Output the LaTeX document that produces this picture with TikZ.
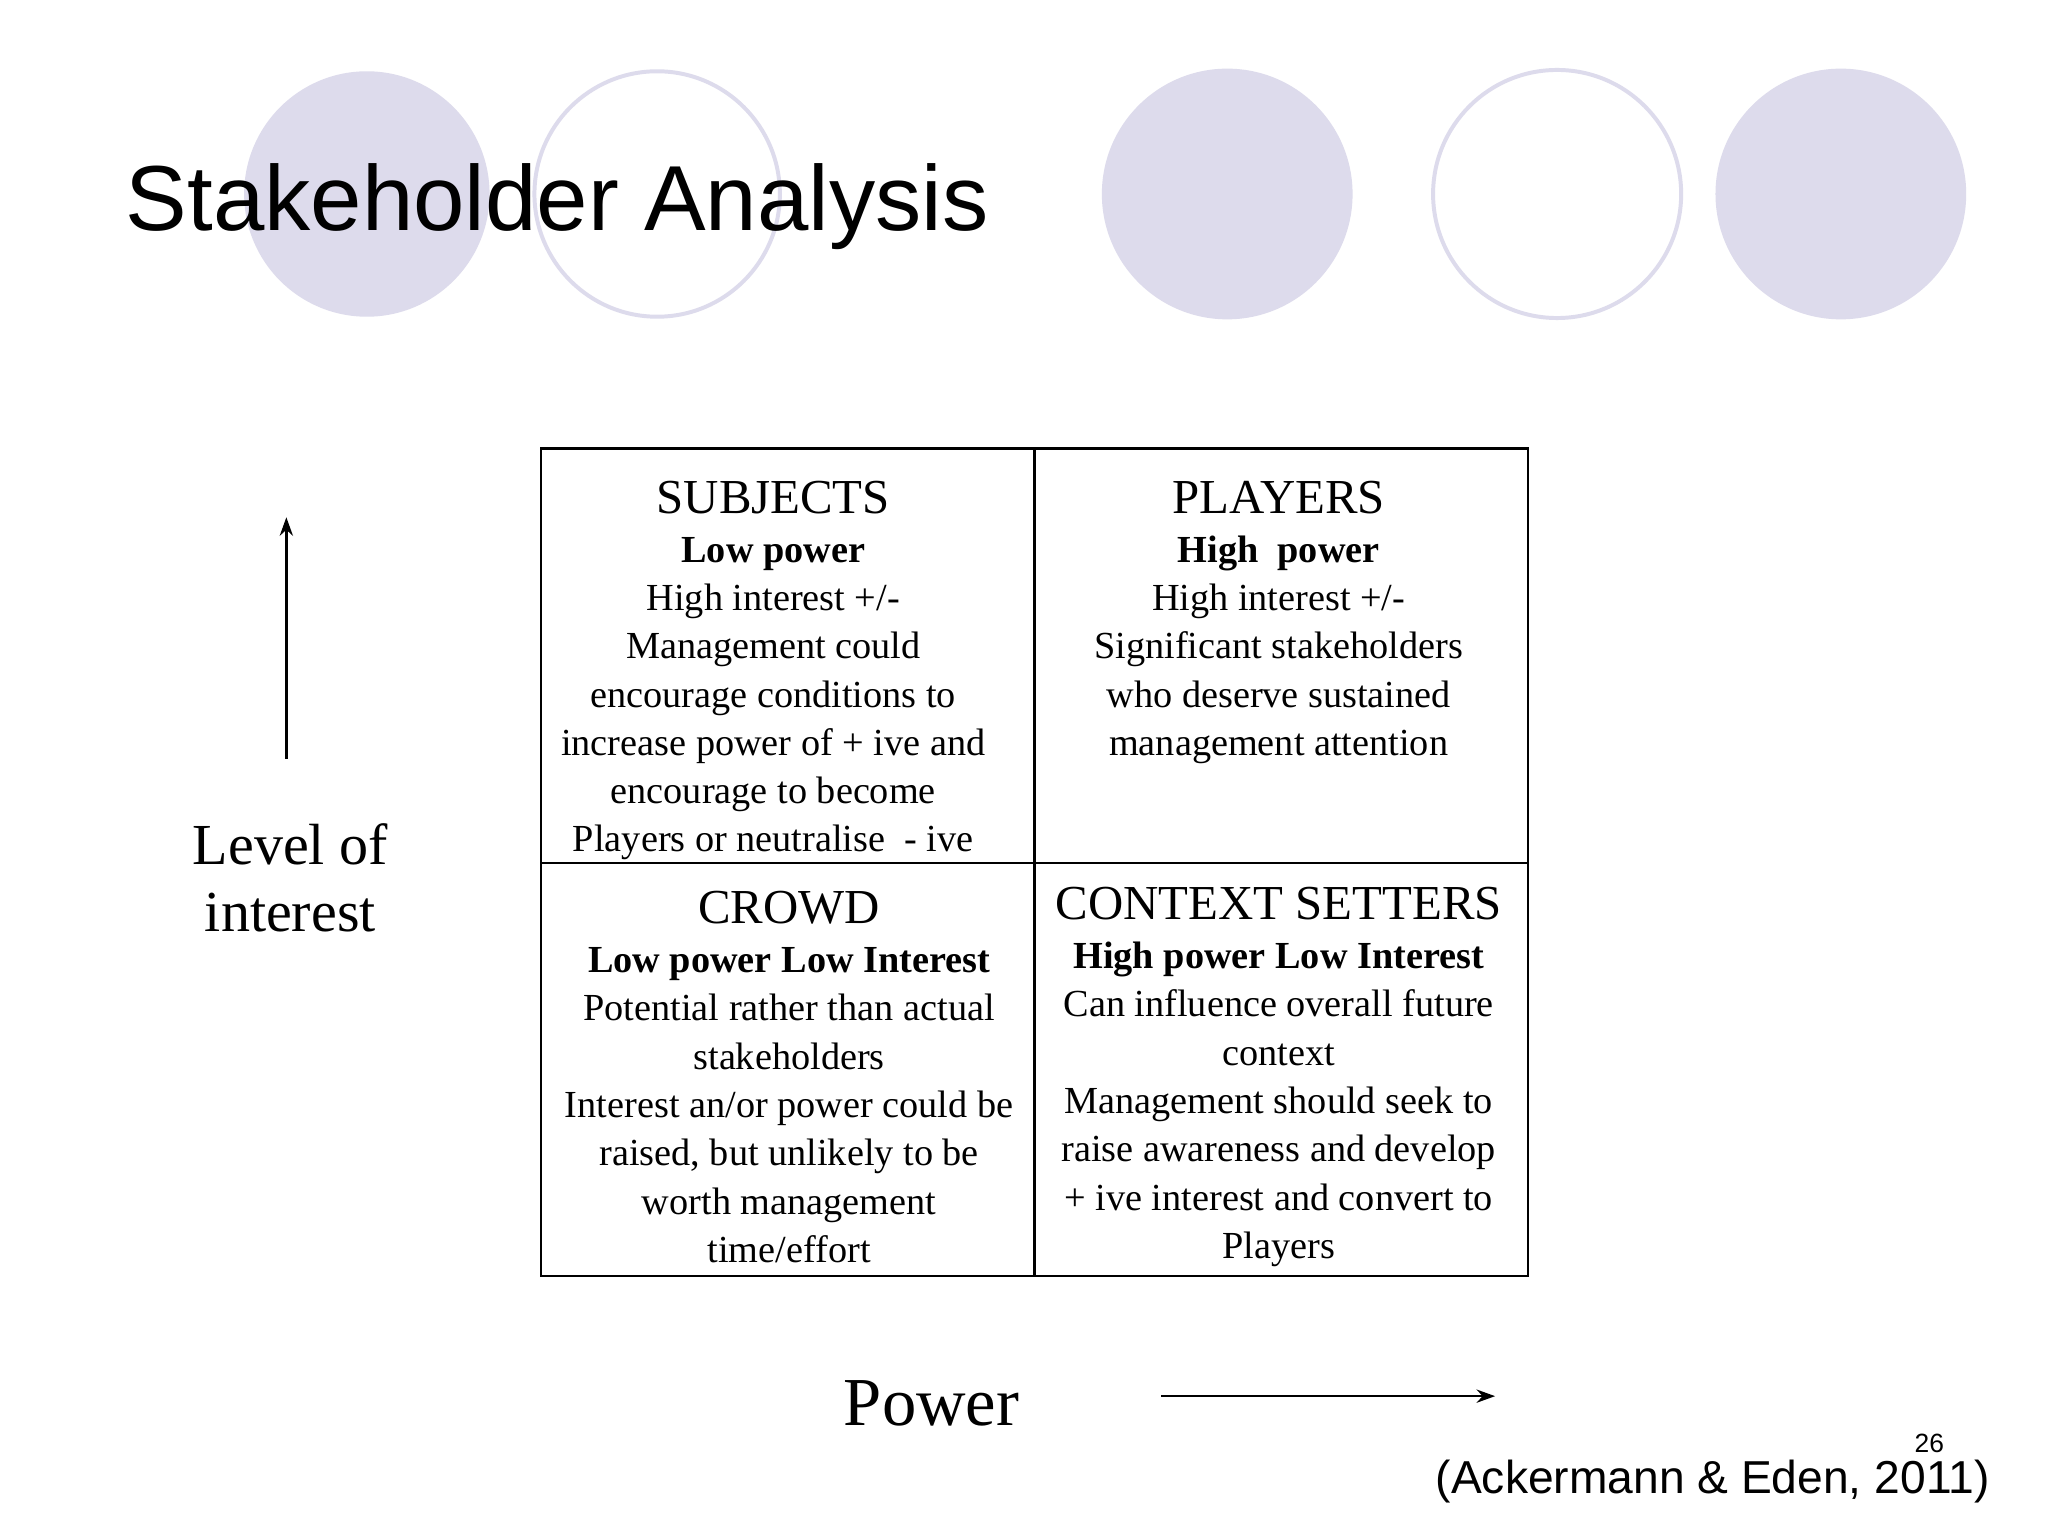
\documentclass[tikz,border=0pt]{standalone}
\usepackage{fontspec}
\setmainfont{Liberation Serif}
\newfontfamily\sans{Liberation Sans}
\usetikzlibrary{arrows.meta}
\definecolor{lav}{HTML}{DDDBEC}
\tikzset{x=0.5pt,y=-0.5pt,
  ln/.style={anchor=base,inner sep=0pt,font=\fontsize{14.5}{17}\selectfont},
  ttl/.style={anchor=base,inner sep=0pt,font=\fontsize{18.5}{20}\selectfont},
  fc/.style={fill=lav,draw=none},
  oc/.style={draw=lav,line width=1.5pt,fill=white}}
\newcommand{\mycell}[4]{%
  \node[ttl] (#4t) at (#1,#2) {#3};}
\newcommand{\mylines}[4]{%
  \foreach \t [count=\i] in {#3} {\node[ln] (#4\i) at (#1,{#2+(\i-1)*36.6}) {\t};}}
\begin{document}
\begin{tikzpicture}
\useasboundingbox (0,0) rectangle (1552,1164);
\fill[white] (0,0) rectangle (1552,1164);
\fill[fc] (278,147) circle[radius=93];
\draw[oc] (498,147) circle[radius=93];
\fill[fc] (930,147) circle[radius=95];
\draw[oc] (1180,147) circle[radius=94];
\fill[fc] (1395,147) circle[radius=95];
\node[anchor=base west,inner sep=0pt,font=\sans\fontsize{35}{40}\selectfont] (title) at (95,175) {Stakeholder Analysis};
% grid
\draw[line width=1pt] (410,340) rectangle (1158,967);
\draw[line width=1pt] (784,340) -- (784,967);
\draw[line width=1pt] (410,654) -- (1158,654);
% cells
\mycell{586}{389}{SUBJECTS}{s}
\mylines{586}{426}{{\textbf{Low power}},{High interest +/-},{Management could},{encourage conditions to},{increase power of + ive and},{encourage to become},{Players or neutralise\ \ - ive}}{s}
\mycell{969}{389}{PLAYERS}{p}
\mylines{969}{426}{{\textbf{High\ \ power}},{High interest +/-},{Significant stakeholders},{who deserve sustained},{management attention}}{p}
\mycell{598}{700}{CROWD}{c}
\mylines{598}{737}{{\textbf{Low power Low Interest}},{Potential rather than actual},{stakeholders},{Interest an/or power could be},{raised, but unlikely to be},{worth management},{time/effort}}{c}
\mycell{969}{697}{CONTEXT SETTERS}{x}
\mylines{969}{734}{{\textbf{High power Low Interest}},{Can influence overall future},{context},{Management should seek to},{raise awareness and develop},{+ ive interest and convert to},{Players}}{x}
% axes
\coordinate (ya) at (217,575); \coordinate (yb) at (217,392);
\draw[line width=1pt,-{Stealth[length=7pt,width=5pt]}] (ya) -- (yb);
\node[anchor=base,inner sep=0pt,font=\fontsize{22}{25}\selectfont] (l1) at (220,655) {Level of};
\node[anchor=base,inner sep=0pt,font=\fontsize{22}{25}\selectfont] (l2) at (220,706) {interest};
\node[anchor=base,inner sep=0pt,font=\fontsize{26}{30}\selectfont] (pw) at (706,1080) {Power};
\coordinate (xa) at (880,1058); \coordinate (xb) at (1133,1058);
\draw[line width=1pt,-{Stealth[length=7pt,width=5pt]}] (xa) -- (xb);
\node[anchor=base,inner sep=0pt,font=\sans\fontsize{10}{12}\selectfont] (num) at (1462,1101) {26};
\node[anchor=base east,inner sep=0pt,font=\sans\fontsize{17.5}{20}\selectfont] (ref) at (1508,1132) {(Ackermann \& Eden, 2011)};
\end{tikzpicture}
\end{document}
